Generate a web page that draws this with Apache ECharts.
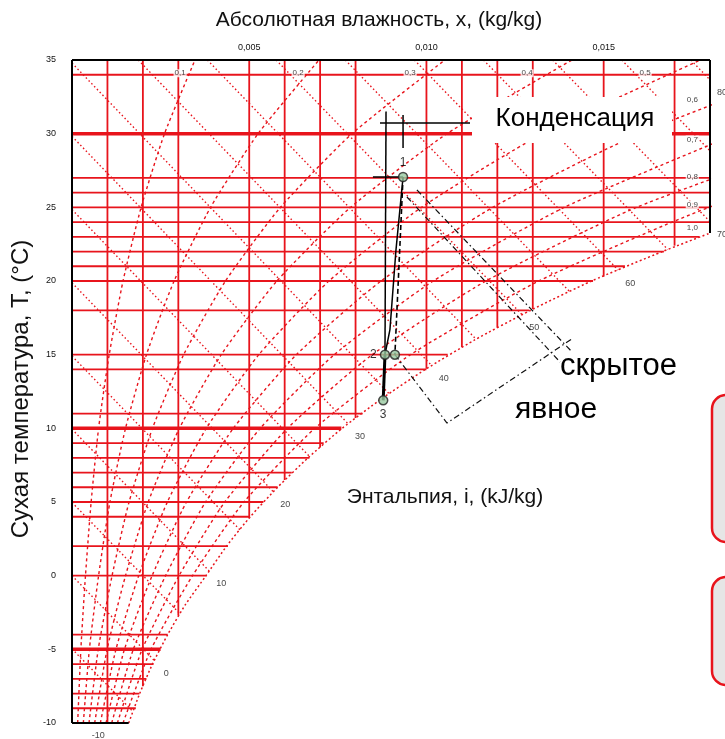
<!DOCTYPE html>
<html><head><meta charset="utf-8">
<script src="https://cdn.jsdelivr.net/npm/echarts@6/dist/echarts.min.js"></script>
<style>html,body{margin:0;padding:0;background:#fff}#c{width:725px;height:739px}</style>
</head><body><div id="c"></div>
<script>
// ---- i-x (Mollier) diagram data ----
// axes
const tempTicks = [-10, -5, 0, 5, 10, 15, 20, 25, 30, 35];
const humTicks = [0.005, 0.010, 0.015];

// isotherms (°C) and the humidity (kg/kg) at which each reaches saturation
const isoT   = [34, 30, 27, 26, 25, 24, 23, 22, 21, 20, 18, 15, 14, 11, 10, 9, 8, 7, 6, 5, 4, 2, 0, -4, -5, -6, -7, -8, -9];
const isoEnd = [0.018, 0.018, 0.018, 0.018, 0.018, 0.018, 0.0177, 0.0167, 0.0156, 0.0147, 0.0129, 0.0106, 0.0100, 0.0082, 0.0076, 0.0071, 0.0067, 0.0062, 0.0058, 0.0054, 0.0050, 0.0044, 0.0038, 0.0027, 0.0025, 0.0023, 0.0021, 0.0019, 0.0018];
const isoBold = [30, 10, -5];

// lines of constant absolute humidity and their dew point
const humLines = [0.001, 0.002, 0.003, 0.005, 0.006, 0.007, 0.008, 0.010, 0.011, 0.012, 0.013, 0.015, 0.017];
const humDew   = [-10, -7.5, -2.7, 3.9, 6.5, 8.7, 10.7, 14.05, 15.5, 16.85, 18.1, 20.3, 22.4];

// enthalpy lines, kJ/kg: start on the frame, end on saturation or the right edge
const enthI      = [-5, 0, 5, 10, 15, 20, 25, 30, 35, 40, 45, 50, 55, 60, 65, 70, 75, 80];
const enthStartX = [0, 0, 0, 0, 0, 0, 0, 0, 0, 0.00187, 0.00382, 0.00576, 0.00771, 0.00966, 0.01161, 0.01356, 0.01551, 0.01746];
const enthStartT = [-4.97, 0, 4.97, 9.94, 14.91, 19.88, 24.85, 29.82, 34.79, 35, 35, 35, 35, 35, 35, 35, 35, 35];
const enthEndX   = [0.00172, 0.00232, 0.00305, 0.00387, 0.00474, 0.00568, 0.00670, 0.00779, 0.00895, 0.01015, 0.01140, 0.01270, 0.01404, 0.01541, 0.01681, 0.018, 0.018, 0.018];
const enthEndT   = [-9.22, -5.75, -2.59, 0.32, 3.11, 5.70, 8.09, 10.31, 12.34, 14.26, 16.05, 17.71, 19.28, 20.74, 22.14, 24.03, 28.84, 33.65];
const enthLabelI = [0, 10, 20, 30, 40, 50, 60, 70, 80];

// relative humidity curves, humidity (kg/kg) at each temperature
const rhT  = [-10, -5, 0, 5, 10, 15, 20, 25, 30, 35];
const rh10 = [0.00016, 0.00025, 0.00038, 0.00054, 0.00075, 0.00105, 0.00144, 0.00195, 0.00261, 0.00347];
const rh20 = [0.00032, 0.00049, 0.00075, 0.00107, 0.00151, 0.00210, 0.00288, 0.00391, 0.00525, 0.00697];
const rh30 = [0.00048, 0.00074, 0.00113, 0.00161, 0.00227, 0.00315, 0.00433, 0.00588, 0.00790, 0.01052];
const rh40 = [0.00064, 0.00099, 0.00151, 0.00215, 0.00303, 0.00421, 0.00578, 0.00786, 0.01058, 0.01411];
const rh50 = [0.00080, 0.00124, 0.00188, 0.00269, 0.00379, 0.00527, 0.00725, 0.00986, 0.01328, 0.01773];
const rh60 = [0.00096, 0.00148, 0.00226, 0.00323, 0.00455, 0.00633, 0.00872, 0.01187, 0.01601, 0.02140];
const rh70 = [0.00112, 0.00173, 0.00264, 0.00377, 0.00531, 0.00740, 0.01019, 0.01389, 0.01876, null];
const rh80 = [0.00128, 0.00198, 0.00302, 0.00431, 0.00608, 0.00847, 0.01168, 0.01593, 0.02160, null];
const rh90 = [0.00144, 0.00223, 0.00340, 0.00485, 0.00685, 0.00955, 0.01317, 0.01797, 0.02432, null];
const rhCurves = [rh10, rh20, rh30, rh40, rh50, rh60, rh70, rh80, rh90];

// saturation curve (relative humidity 1,0)
const satT = [-10, -8, -6, -4, -2, 0, 2, 4, 6, 8, 10, 12, 14, 16, 18, 20, 22, 23.25];
const satX = [0.0016, 0.00191, 0.00227, 0.0027, 0.00319, 0.00378, 0.00436, 0.00503, 0.0058, 0.00666, 0.00762, 0.00873, 0.00997, 0.01136, 0.01293, 0.01466, 0.01666, 0.018];

// relative humidity captions
const rhLabelText = ['0,1', '0,2', '0,3', '0,4', '0,5', '0,6', '0,7', '0,8', '0,9', '1,0'];
const rhLabelX = [0.00305, 0.00638, 0.00954, 0.01284, 0.01617, 0.0175, 0.0175, 0.0175, 0.0175, 0.0175];
const rhLabelT = [34.1, 34.1, 34.1, 34.1, 34.1, 32.3, 29.6, 27.1, 25.2, 23.6];

// air treatment process: states 1, 2, 2', 3
const procX = [0.00934, 0.00883, 0.00911, 0.00878];
const procT = [27.06, 15.0, 15.0, 11.9];
const procName = ['1', '2', '', '3'];
// process construction lines
const condLineX = [0.00869, 0.01123], condLineT = [30.72, 30.72];
const leftStemX = [0.00886, 0.00883], leftStemT = [31.5, 15.0];
const rightStemX = [0.00934, 0.00934], rightStemT = [31.27, 29.03];
const state1LineX = [0.00849, 0.00934], state1LineT = [27.06, 27.06];
const coolPathX = [0.00934, 0.00914, 0.00897, 0.00883], coolPathT = [27.06, 22.1, 16.7, 15.0];
const coolPath2X = [0.00934, 0.00911], coolPath2T = [27.06, 15.0];
const latent1X = [0.00945, 0.01377], latent1T = [25.7, 14.5];
const latent2X = [0.00973, 0.01411], latent2T = [26.18, 15.18];
const sensX = [0.00911, 0.01058, 0.01414], sensT = [15.0, 10.36, 16.13];

// ---- drawing ----
const RED = '#e8141c';
const FONT = '"Liberation Sans", Arial, sans-serif';
const series = [];
function pairs(xs, ts) { const d = []; for (let k = 0; k < xs.length; k++) if (xs[k] != null) d.push([xs[k], ts[k]]); return d; }
function line(data, lineStyle, extra) {
  series.push(Object.assign({ type: 'line', data, symbol: 'none', silent: true, animation: false, lineStyle, z: 2 }, extra || {}));
}

// isotherms
isoT.forEach((t, k) => {
  const bold = isoBold.includes(t);
  line([[0, t], [isoEnd[k], t]], { color: RED, width: bold ? 3.5 : 1.8 });
});
// constant humidity
humLines.forEach((x, k) => line([[x, 35], [x, humDew[k]]], { color: RED, width: 1.8 }));
// enthalpy
enthI.forEach((i, k) => line([[enthStartX[k], enthStartT[k]], [enthEndX[k], enthEndT[k]]], { color: RED, width: 1.4, type: [1.5, 2.5] }));
// relative humidity
rhCurves.forEach(c => line(pairs(c, rhT), { color: RED, width: 1.4, type: [3, 3] }, { smooth: 0.2 }));
line(pairs(satX, satT), { color: RED, width: 1.5, type: [2, 2.5] }, { smooth: 0.2 });

// frame
const BLK = { color: '#000', width: 2 };
line([[0, 35], [0.018, 35]], BLK, { z: 5 });
line([[0, 35], [0, -10]], BLK, { z: 5 });
line([[0.018, 35], [0.018, 23.25]], BLK, { z: 5 });
line([[0, -10], [0.0016, -10]], BLK, { z: 5 });

// process lines
const PL = { color: '#000', width: 1.5 };
line(pairs(condLineX, condLineT), PL, { z: 6 });
line(pairs(leftStemX, leftStemT), PL, { z: 6 });
line([[procX[1], procT[1]], [procX[3], procT[3]]], { color: '#000', width: 3 }, { z: 6 });
line(pairs(rightStemX, rightStemT), PL, { z: 6 });
line(pairs(state1LineX, state1LineT), PL, { z: 6 });
line(pairs(coolPathX, coolPathT), PL, { z: 6 });
line(pairs(coolPath2X, coolPath2T), { color: '#000', width: 1.6, type: [5, 3] }, { z: 6 });
const DD = { color: '#111', width: 1.2, type: [6, 3, 1.5, 3] };
line(pairs(latent1X, latent1T), DD, { z: 6 });
line(pairs(latent2X, latent2T), DD, { z: 6 });
line(pairs(sensX, sensT), DD, { z: 6 });

// state points
const labelPos = ['top', 'left', 'left', 'bottom'];
series.push({
  type: 'scatter', silent: true, animation: false, z: 8,
  symbol: 'circle', symbolSize: 9,
  itemStyle: { color: '#98c9a0', borderColor: '#222', borderWidth: 1.5 },
  data: procX.map((x, k) => ({
    value: [x, procT[k]],
    label: { show: procName[k] !== '', formatter: procName[k], position: labelPos[k], distance: 3, color: '#000', fontSize: 12, fontFamily: FONT }
  }))
});

// enthalpy captions
const enthLabels = enthLabelI.map(i => { const k = enthI.indexOf(i); return { value: [enthEndX[k], enthEndT[k]], name: String(i) }; });
enthLabels.push({ value: [0.0004, -10], name: '-10' });
series.push({
  type: 'scatter', silent: true, animation: false, z: 7, symbolSize: 0,
  data: enthLabels,
  label: { show: true, formatter: p => p.name, position: 'inside', offset: [12, 13], color: '#111', fontSize: 9, fontFamily: FONT }
});
// relative humidity captions
series.push({
  type: 'scatter', silent: true, animation: false, z: 7, symbolSize: 0,
  data: rhLabelText.map((s, k) => ({ value: [rhLabelX[k], rhLabelT[k]], name: s })),
  label: { show: true, formatter: p => p.name, position: 'inside', color: '#111', fontSize: 8, fontFamily: FONT, backgroundColor: '#fff', padding: [0, 1] }
});

const chart = echarts.init(document.getElementById('c'), null, { renderer: 'canvas' });
chart.setOption({
  animation: false,
  backgroundColor: '#fff',
  grid: { left: 72, top: 60, width: 638, height: 663, containLabel: false },
  xAxis: {
    type: 'value', position: 'top', min: 0, max: 0.018, interval: 0.005,
    axisLine: { show: false }, axisTick: { show: false }, splitLine: { show: false },
    axisLabel: {
      margin: 8, fontSize: 9, color: '#111', fontFamily: FONT, showMinLabel: false, showMaxLabel: false,
      formatter: v => humTicks.some(h => Math.abs(h - v) < 1e-9) ? v.toFixed(3).replace('.', ',') : ''
    }
  },
  yAxis: {
    type: 'value', min: -10, max: 35, interval: 5,
    axisLine: { show: false }, axisTick: { show: false }, splitLine: { show: false },
    axisLabel: {
      margin: 16, fontSize: 9, color: '#111', fontFamily: FONT,
      formatter: v => tempTicks.includes(v) ? String(v) : ''
    }
  },
  series,
  graphic: [
    { type: 'text', x: 379, y: 20, z: 20, style: { text: 'Абсолютная влажность, x, (kg/kg)', font: '21px ' + FONT, fill: '#111', textAlign: 'center', textVerticalAlign: 'middle' } },
    { type: 'text', x: 21, y: 389, rotation: Math.PI / 2, z: 20, style: { text: 'Сухая температура, T, (°C)', font: '24px ' + FONT, fill: '#111', textAlign: 'center', textVerticalAlign: 'middle' } },
    { type: 'text', x: 445, y: 497, z: 20, style: { text: 'Энтальпия, i, (kJ/kg)', font: '21px ' + FONT, fill: '#111', textAlign: 'center', textVerticalAlign: 'middle' } },
    { type: 'rect', z: 20, shape: { x: 472, y: 97, width: 200, height: 46 }, style: { fill: '#fff' } },
    { type: 'text', x: 575, y: 119, z: 21, style: { text: 'Конденсация', font: '26px ' + FONT, fill: '#000', textAlign: 'center', textVerticalAlign: 'middle' } },
    { type: 'text', x: 560, y: 366, z: 21, style: { text: 'скрытое', font: '31px ' + FONT, fill: '#000', textAlign: 'left', textVerticalAlign: 'middle' } },
    { type: 'text', x: 515, y: 410, z: 21, style: { text: 'явное', font: '30px ' + FONT, fill: '#000', textAlign: 'left', textVerticalAlign: 'middle' } },
    { type: 'rect', z: 20, shape: { x: 712, y: 395, width: 40, height: 147, r: 14 }, style: { fill: '#e6e6e6', stroke: RED, lineWidth: 2.5 } },
    { type: 'rect', z: 20, shape: { x: 712, y: 577, width: 40, height: 108, r: 14 }, style: { fill: '#e6e6e6', stroke: RED, lineWidth: 2.5 } }
  ]
});
</script></body></html>
